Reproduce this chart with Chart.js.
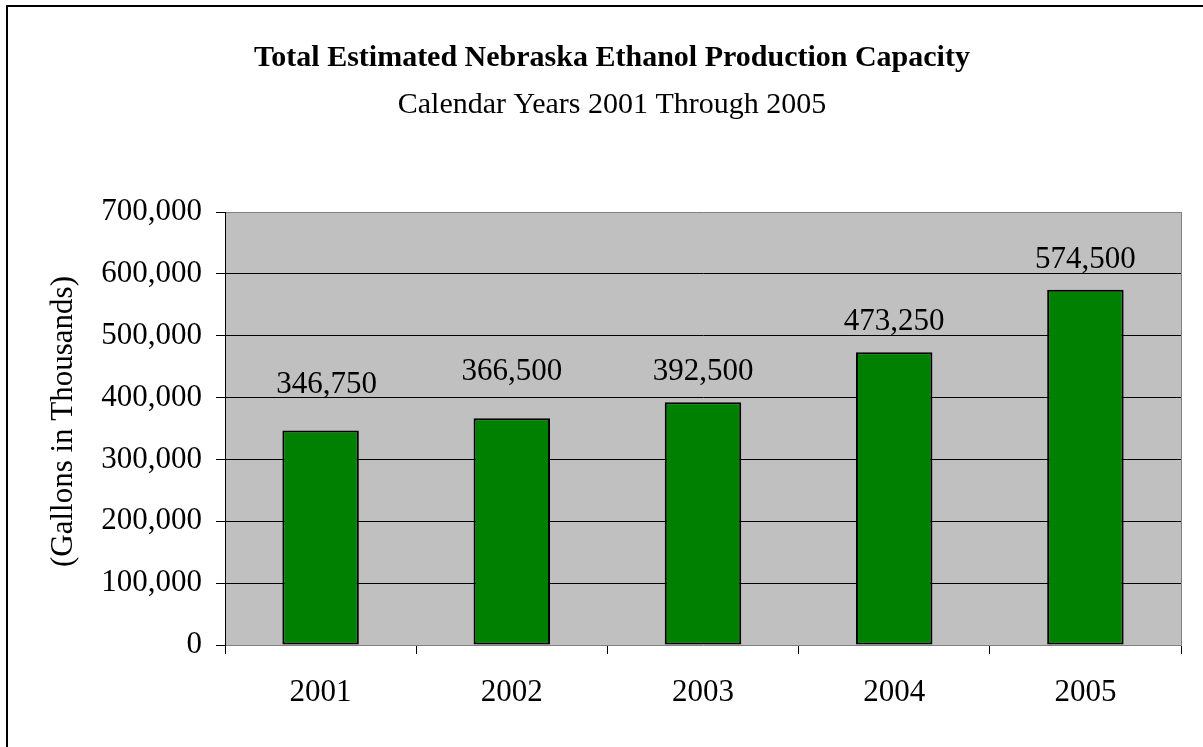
<!DOCTYPE html>
<html>
<head>
<meta charset="utf-8">
<script src="https://cdn.jsdelivr.net/npm/chart.js@4/dist/chart.umd.min.js"></script>
<style>
  html, body { margin: 0; padding: 0; background: #fff; }
  #wrap { width: 1203px; height: 747px; position: relative; }
</style>
</head>
<body>
<div id="wrap"><canvas id="c" width="1203" height="747"></canvas></div>
<script>
const categories = ['2001', '2002', '2003', '2004', '2005'];
const capacity = [346750, 366500, 392500, 473250, 574500];
const titleText = 'Total Estimated Nebraska Ethanol Production Capacity';
const subtitleText = 'Calendar Years 2001 Through 2005';
const yAxisTitle = '(Gallons in Thousands)';
const yMin = 0, yMax = 700000, yStep = 100000;

const FONT = '"Liberation Serif", "Times New Roman", Times, serif';
const fmt = v => Number(v).toLocaleString('en-US');

const framePlugin = {
  id: 'frame',
  beforeDraw(chart) {
    const { ctx, chartArea: a } = chart;
    ctx.save();
    ctx.fillStyle = '#fff';
    ctx.fillRect(0, 0, chart.width, chart.height);
    ctx.strokeStyle = '#000';
    ctx.lineWidth = 2;
    ctx.strokeRect(7, 6, chart.width + 50, chart.height + 50);
    ctx.fillStyle = '#C0C0C0';
    ctx.fillRect(a.left, a.top, a.right - a.left, a.bottom - a.top);
    ctx.restore();
  },
  afterDraw(chart, args, opts) {
    const { ctx, chartArea: a } = chart;
    ctx.save();
    ctx.strokeStyle = '#808080';
    ctx.lineWidth = 1;
    ctx.beginPath();
    ctx.moveTo(Math.round(a.right) + 0.5, a.top);
    ctx.lineTo(Math.round(a.right) + 0.5, a.bottom);
    ctx.stroke();
    // rotated y-axis title
    ctx.fillStyle = '#000';
    ctx.font = '31px ' + FONT;
    ctx.textAlign = 'center';
    ctx.textBaseline = 'middle';
    ctx.translate(opts.titleX, (a.top + a.bottom) / 2 + opts.titleDy);
    ctx.rotate(-Math.PI / 2);
    ctx.fillText(yAxisTitle, 0, 0);
    ctx.restore();
  }
};

const valueLabels = {
  id: 'valueLabels',
  afterDatasetsDraw(chart, args, opts) {
    const { ctx } = chart;
    const meta = chart.getDatasetMeta(0);
    ctx.save();
    ctx.fillStyle = '#000';
    ctx.font = '31px ' + FONT;
    ctx.textAlign = 'center';
    ctx.textBaseline = 'alphabetic';
    meta.data.forEach((bar, i) => {
      const v = chart.data.datasets[0].data[i];
      const lift = opts.gap + (opts.extraLift[i] || 0);
      ctx.fillText(fmt(v), bar.x + (opts.nudgeX[i] || 0), bar.y - lift);
    });
    ctx.restore();
  }
};

new Chart(document.getElementById('c'), {
  type: 'bar',
  data: {
    labels: categories,
    datasets: [{
      data: capacity,
      backgroundColor: '#008000',
      borderColor: '#000',
      borderWidth: 2,
      borderSkipped: false,
      barPercentage: 0.4,
      categoryPercentage: 1.0
    }]
  },
  options: {
    responsive: false,
    animation: false,
    devicePixelRatio: 1,
    layout: { padding: { left: 43, right: 22, top: 0, bottom: 0 } },
    plugins: {
      legend: { display: false },
      tooltip: { enabled: false },
      frame: { titleX: 64, titleDy: -7 },
      title: {
        display: true,
        text: titleText,
        color: '#000',
        font: { family: FONT, size: 30, weight: 'bold', lineHeight: 1.2 },
        padding: { top: 40, bottom: 0 }
      },
      subtitle: {
        display: true,
        text: subtitleText,
        color: '#000',
        font: { family: FONT, size: 30, weight: 'normal', lineHeight: 1.2 },
        padding: { top: 11.3, bottom: 88.7 }
      },
      valueLabels: { gap: 22, extraLift: [16, 16, 0, 0, 0], nudgeX: [6, 0, 0, 0, 0] }
    },
    scales: {
      x: {
        afterFit(scale) { scale.height = 102; },
        grid: {
          display: true,
          drawOnChartArea: false,
          drawTicks: true,
          tickLength: 9,
          tickColor: '#000',
          offset: true
        },
        border: { display: true, color: '#808080', width: 1 },
        ticks: {
          color: '#000',
          padding: 20,
          font: { family: FONT, size: 31 }
        }
      },
      y: {
        min: yMin,
        max: yMax,
        afterFit(scale) { scale.width = 225 - 43; },
        grid: {
          drawTicks: true,
          tickLength: 9,
          tickColor: '#000',
          lineWidth: 1,
          color: ctx => {
            const v = ctx.tick ? ctx.tick.value : null;
            if (v === yMax) return '#808080';
            if (v === yMin) return 'rgba(0,0,0,0)';
            return '#000';
          }
        },
        border: { display: true, color: '#000', width: 1 },
        ticks: {
          stepSize: yStep,
          color: '#000',
          padding: 14,
          font: { family: FONT, size: 31 },
          callback: v => fmt(v)
        }
      }
    }
  },
  plugins: [framePlugin, valueLabels]
});
</script>
</body>
</html>
